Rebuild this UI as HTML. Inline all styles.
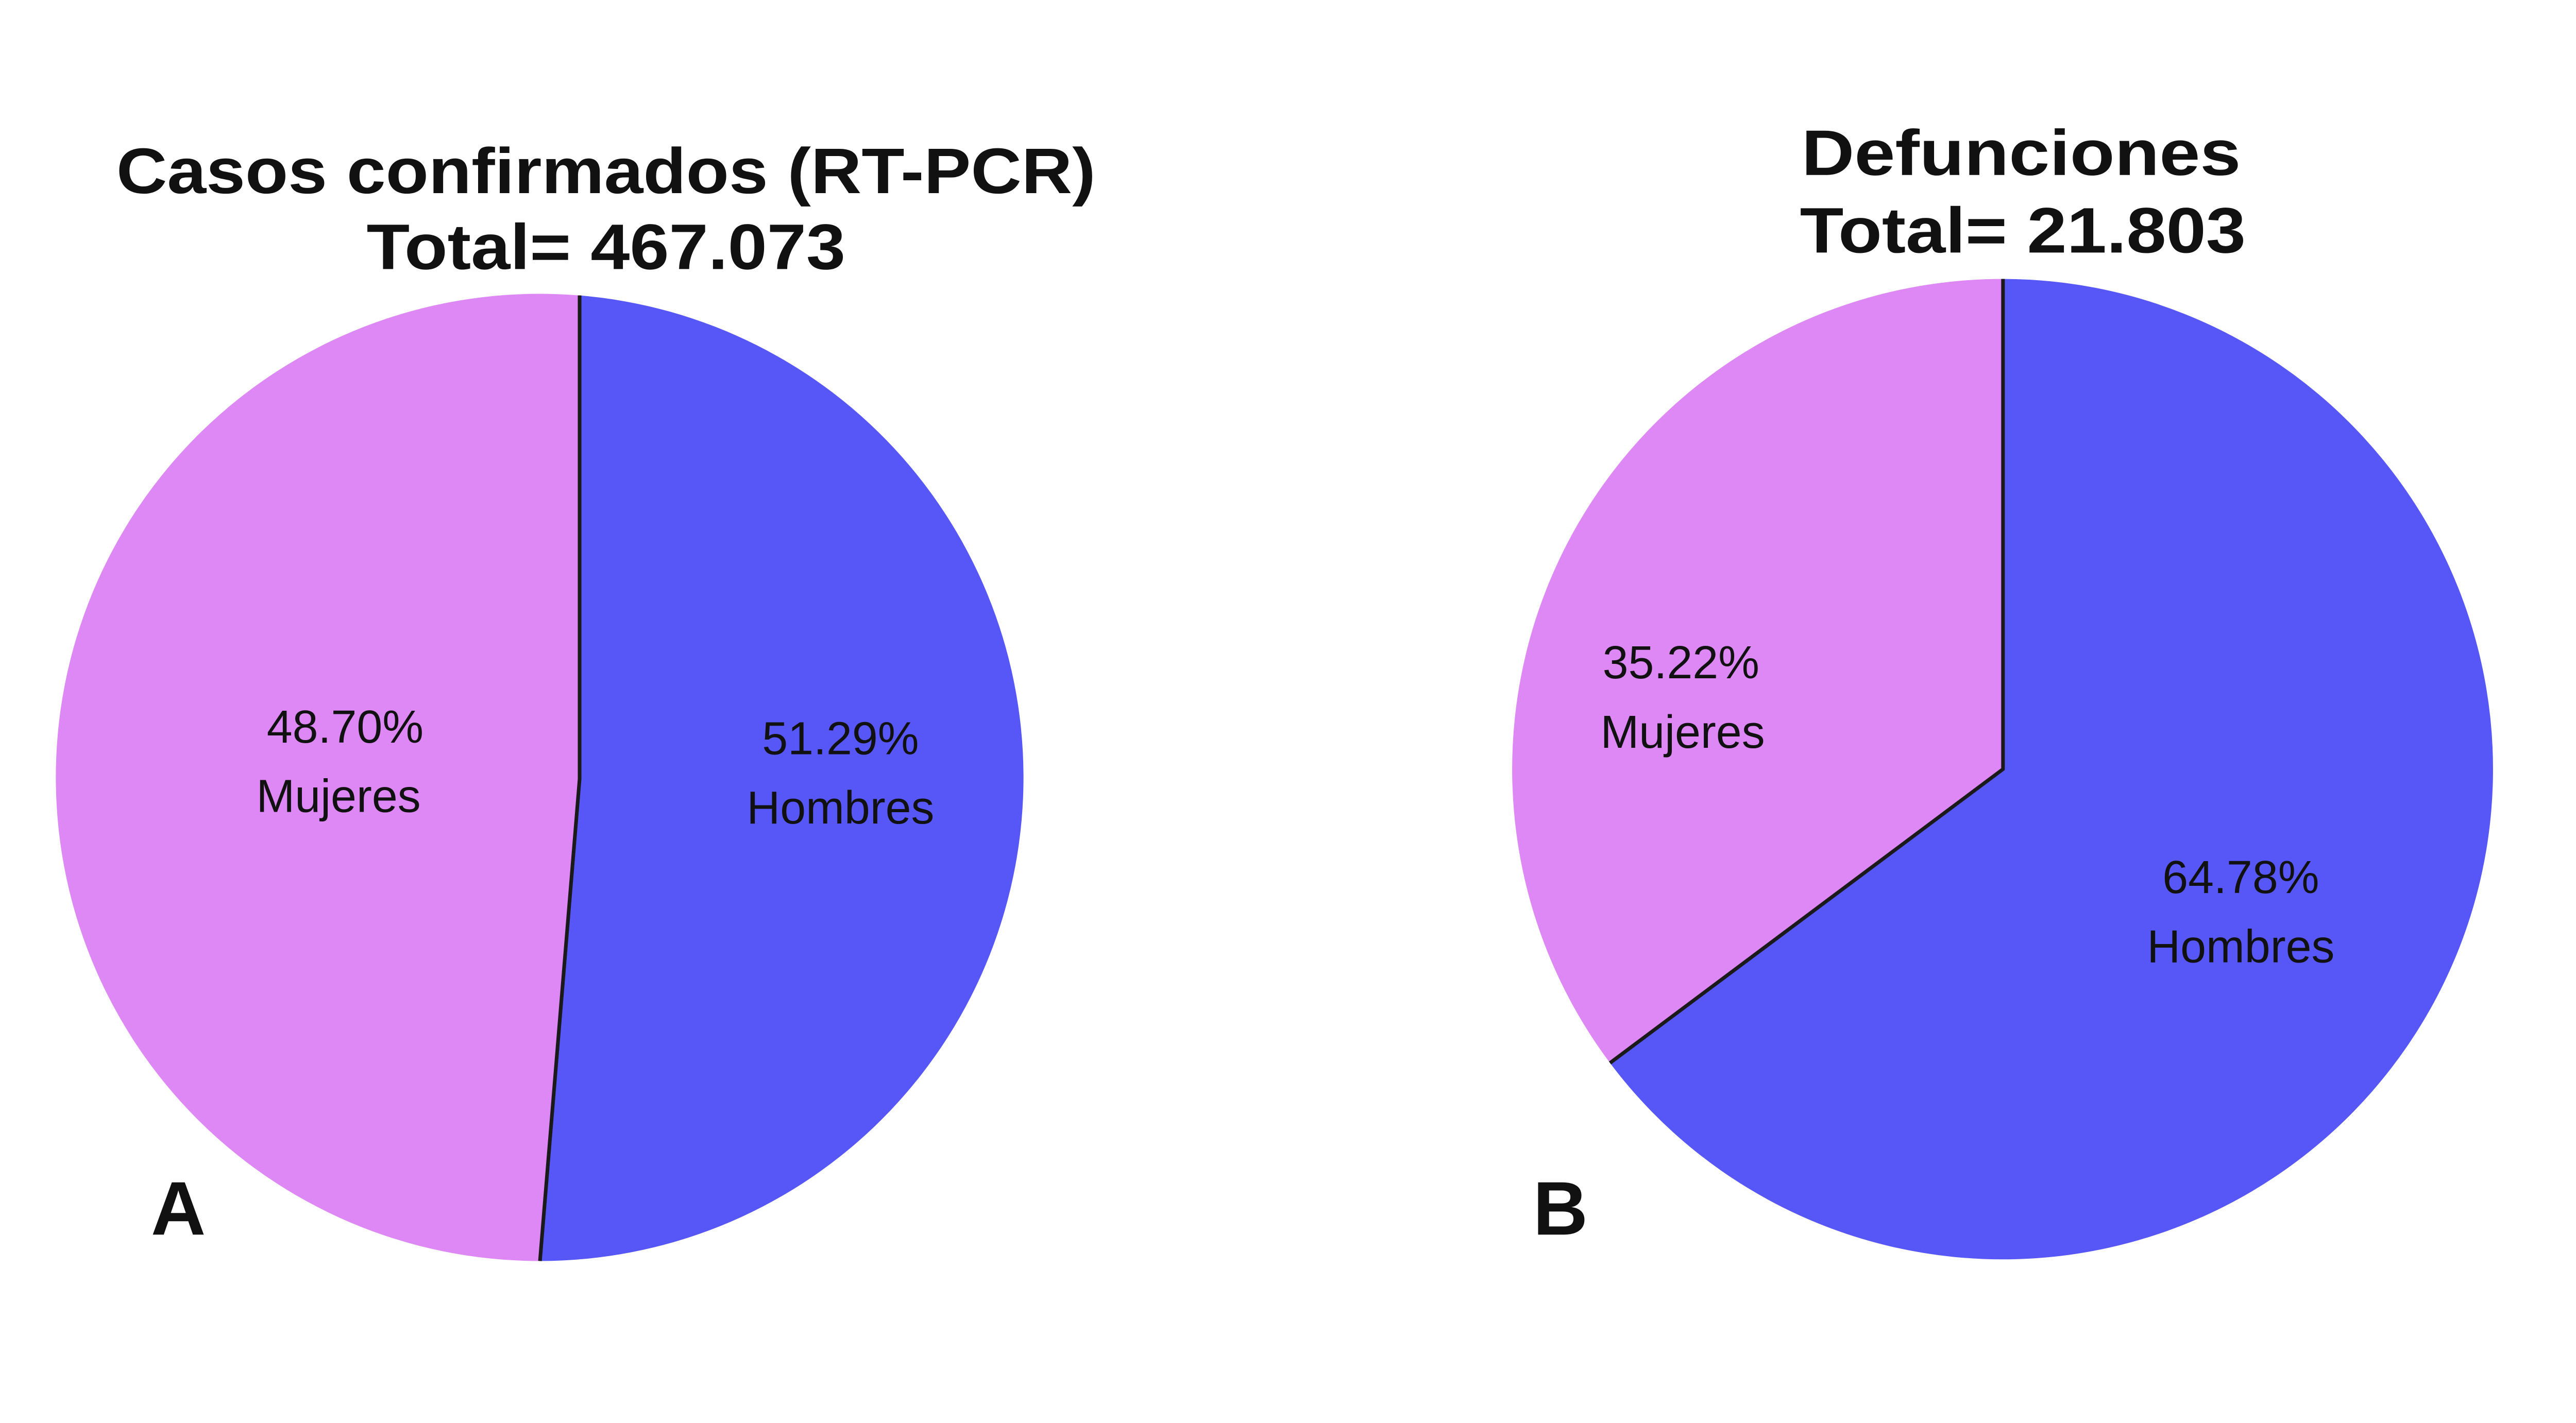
<!DOCTYPE html>
<html><head><style>html,body{margin:0;padding:0;background:#fff;overflow:hidden}svg{display:block;position:absolute;left:0;top:0;width:100vw;height:52.559vw}</style></head>
<body>
<svg viewBox="0 0 1560 820" preserveAspectRatio="none" xmlns="http://www.w3.org/2000/svg">
<rect width="1560" height="820" fill="#fff"/>
<g stroke="#1a1a1a" stroke-width="2.2" stroke-linejoin="round">
<path d="M351,472 L351,179 A293,293 0 1,0 327,764 Z" fill="#DD88F5" stroke="none"/>
<path d="M351,472 L351,179 A293,293 0 0,1 327,764 Z" fill="#5757F8" stroke="none"/>
<path d="M351,179 L351,472 L327,764" fill="none"/>
<path d="M1213,466 L1213,169 A297,297 0 0,0 975,644 Z" fill="#DD88F5" stroke="none"/>
<path d="M1213,466 L1213,169 A297,297 0 1,1 975,644 Z" fill="#5757F8" stroke="none"/>
<path d="M1213,169 L1213,466 L975,644" fill="none"/>
</g>
<g font-family="Liberation Sans, sans-serif" fill="#111" text-anchor="middle">
<text x="367" y="117" font-size="39" font-weight="bold" textLength="593" lengthAdjust="spacingAndGlyphs">Casos confirmados (RT-PCR)</text>
<text x="367" y="163" font-size="39" font-weight="bold" textLength="290" lengthAdjust="spacingAndGlyphs">Total= 467.073</text>
<text x="1224" y="106" font-size="39" font-weight="bold" textLength="266" lengthAdjust="spacingAndGlyphs">Defunciones</text>
<text x="1225" y="153" font-size="39" font-weight="bold" textLength="270" lengthAdjust="spacingAndGlyphs">Total= 21.803</text>
<g font-size="28">
<text x="209" y="450">48.70%</text>
<text x="205" y="492">Mujeres</text>
<text x="509" y="457">51.29%</text>
<text x="509" y="499">Hombres</text>
<text x="1018" y="411">35.22%</text>
<text x="1019" y="453">Mujeres</text>
<text x="1357" y="541">64.78%</text>
<text x="1357" y="583">Hombres</text>
</g>
<text x="108" y="748" font-size="46" font-weight="bold">A</text>
<text x="945" y="748" font-size="46" font-weight="bold">B</text>
</g>
</svg>
</body></html>
